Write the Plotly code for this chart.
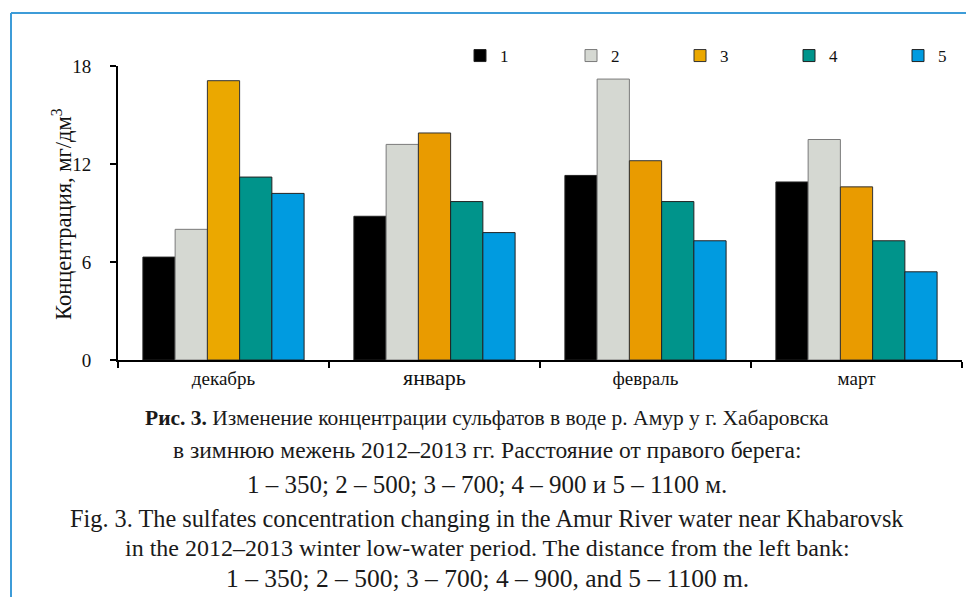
import plotly.graph_objects as go

months = ["декабрь", "январь", "февраль", "март"]
series_names = ["1", "2", "3", "4", "5"]
s1 = [6.3, 8.8, 11.3, 10.9]
s2 = [8.0, 13.2, 17.2, 13.5]
s3 = [17.1, 13.9, 12.2, 10.6]
s4 = [11.2, 9.7, 9.7, 7.3]
s5 = [10.2, 7.8, 7.3, 5.4]
y_ticks = [0, 6, 12, 18]
y_title = "Концентрация, мг/дм<sup>3</sup>"

caption_ru = [
    "<b>Рис. 3.</b> Изменение концентрации сульфатов в воде р. Амур у г. Хабаровска",
    "в зимнюю межень 2012–2013 гг. Расстояние от правого берега:",
    "1 – 350; 2 – 500; 3 – 700; 4 – 900 и 5 – 1100 м.",
]
caption_en = [
    "Fig. 3. The sulfates concentration changing in the Amur River water near Khabarovsk",
    "in the 2012–2013 winter low-water period. The distance from the left bank:",
    "1 – 350; 2 – 500; 3 – 700; 4 – 900, and 5 – 1100 m.",
]

values = [s1, s2, s3, s4, s5]
fills = ["#000000", "#d5d8d2", "#e99b00", "#00948b", "#009be0"]
edges = ["#222222", "#7a7a7a", "#333333", "#222222", "#222222"]

# page offset (default body margin) -> work in screen pixels
OFF = 8
W, H = 974 - OFF, 597 - OFF
PX0, PX1, PY0, PY1 = 118, 962, 66, 360  # plot area in screen px
L = PX0 - OFF
R = W - (PX1 - OFF)
T = PY0 - OFF
B = H - (PY1 - OFF)
PW, PH = PX1 - PX0, PY1 - PY0


def sx(x):
    return (x - PX0) / PW


def sy(y):
    return (PY1 - y) / PH


SERIF = "Liberation Serif, Times New Roman, serif"

legend_centers = [480, 591, 700, 809, 918]
fig = go.Figure()
for i, (name, vals) in enumerate(zip(series_names, values)):
    color = fills[i]
    if i == 2:
        color = ["#eba800", fills[i], fills[i], fills[i]]
    lg = "legend" if i == 0 else f"legend{i + 1}"
    fig.add_trace(go.Bar(
        x=months, y=vals, name=name, legend=lg,
        marker=dict(color=color, line=dict(color=edges[i], width=1)),
    ))

legends = {}
for i, c in enumerate(legend_centers):
    key = "legend" if i == 0 else f"legend{i + 1}"
    legends[key] = dict(
        x=sx(c - 20), xanchor="left", y=sy(56), yanchor="middle",
        font=dict(size=17, family=SERIF, color="#111111"),
        bgcolor="rgba(0,0,0,0)", borderwidth=0,
    )

ticktext = [f'<span style="font-size:22px">{m}</span>' if m == "январь" else m for m in months]

fig.update_layout(
    width=W, height=H,
    margin=dict(l=L, r=R, t=T, b=B, autoexpand=False),
    paper_bgcolor="white", plot_bgcolor="white",
    barmode="group", bargap=0.236, bargroupgap=0,
    font=dict(family=SERIF, color="#111111"),
    showlegend=True,
    xaxis=dict(
        showline=True, linecolor="#000000", linewidth=2,
        tickmode="array", tickvals=months, ticktext=ticktext,
        ticks="outside", tickson="boundaries", ticklen=6, tickwidth=1.5, tickcolor="#000",
        tickfont=dict(size=19, family=SERIF),
        showgrid=False, zeroline=False,
    ),
    yaxis=dict(
        range=[0, 18], tickvals=y_ticks,
        showline=True, linecolor="#000000", linewidth=2,
        ticks="outside", ticklen=6, tickwidth=2, tickcolor="#000",
        tickfont=dict(size=19, family=SERIF), ticklabelstandoff=15,
        showgrid=False, zeroline=False,
    ),
    **legends,
)

fig.add_annotation(
    text=y_title, xref="paper", yref="paper", x=sx(62), y=sy(214),
    xanchor="center", yanchor="middle", textangle=-90, showarrow=False,
    font=dict(size=22.5, family=SERIF, color="#111111"),
)

cx = sx(487)
lines = caption_ru + caption_en
ys = [418, 450, 484, 518, 548, 578]
sizes = [21.5, 23.5, 25, 24.3, 24, 25.5]
for txt, yp, sz in zip(lines, ys, sizes):
    fig.add_annotation(
        text=txt, xref="paper", yref="paper", x=cx,
        y=sy(yp), xanchor="center", yanchor="middle",
        showarrow=False, font=dict(size=sz, family=SERIF, color="#1a1a1a"),
    )

border = "#3d9cd8"
fig.add_shape(type="line", xref="paper", yref="paper",
              x0=sx(11), x1=sx(990), y0=sy(13), y1=sy(13),
              line=dict(color=border, width=2))
fig.add_shape(type="line", xref="paper", yref="paper",
              x0=sx(11), x1=sx(11), y0=sy(13), y1=sy(610),
              line=dict(color=border, width=2))

fig.write_html("out.html")
